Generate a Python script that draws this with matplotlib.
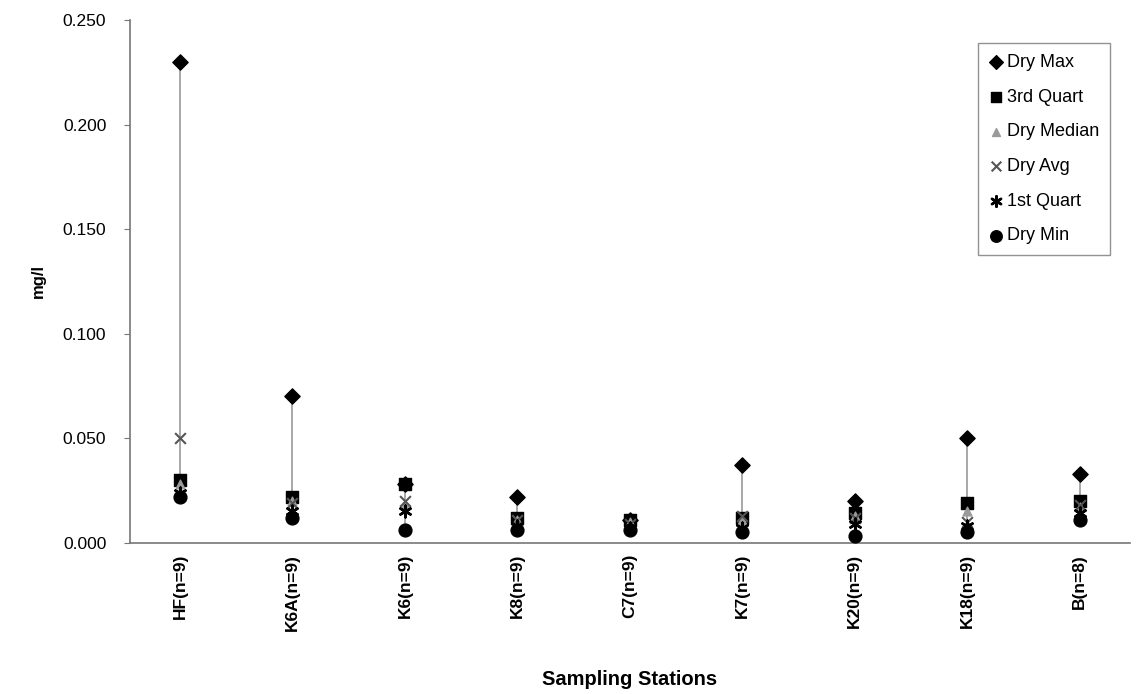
import matplotlib
matplotlib.use("Agg")
import matplotlib.pyplot as plt
import numpy as np

plt.rcParams['font.family'] = ['Liberation Sans', 'DejaVu Sans']

stations = ["HF(n=9)", "K6A(n=9)", "K6(n=9)", "K8(n=9)", "C7(n=9)",
            "K7(n=9)", "K20(n=9)", "K18(n=9)", "B(n=8)"]

dry_max = [0.230, 0.070, 0.028, 0.022, 0.011, 0.037, 0.020, 0.050, 0.033]
third_quart = [0.030, 0.022, 0.028, 0.012, 0.011, 0.012, 0.014, 0.019, 0.020]
dry_median = [0.028, 0.020, 0.018, 0.011, 0.010, 0.011, 0.013, 0.015, 0.017]
dry_avg = [0.050, 0.019, 0.020, 0.011, 0.009, 0.013, 0.012, 0.010, 0.018]
first_quart = [0.024, 0.015, 0.015, 0.008, 0.007, 0.007, 0.009, 0.008, 0.014]
dry_min = [0.022, 0.012, 0.006, 0.006, 0.006, 0.005, 0.003, 0.005, 0.011]

yticks = [0.000, 0.050, 0.100, 0.150, 0.200, 0.250]

fig = plt.figure(figsize=(11.4, 6.94), dpi=100)
ax = fig.add_axes([0.114, 0.218, 0.877, 0.753])

x = np.arange(len(stations))

# high-low lines from minimum to maximum
ax.vlines(x, dry_min, dry_max, color="#9a9a9a", lw=1.2, zorder=1)

ax.scatter(x, dry_max, marker="D", s=60, color="black", label="Dry Max", zorder=3)
ax.scatter(x, third_quart, marker="s", s=75, color="black", label="3rd Quart", zorder=4)
ax.scatter(x, dry_median, marker="^", s=40, color="#9a9a9a", label="Dry Median", zorder=5)
ax.scatter(x, dry_avg, marker="x", s=60, color="#555555", linewidths=1.5, label="Dry Avg", zorder=6)
ax.scatter(x, first_quart, marker=(6, 2, 0), s=70, color="black", linewidths=1.8, label="1st Quart", zorder=6)
ax.scatter(x, dry_min, marker="o", s=85, color="black", label="Dry Min", zorder=7)

ax.set_xlim(-0.444, 8.444)
ax.set_ylim(0, 0.25)
ax.set_yticks(yticks)
ax.set_yticklabels([f"{v:.3f}" for v in yticks], fontsize=12.5)
ax.set_xticks(x)
ax.set_xticklabels(stations, rotation=90, fontsize=12.5, fontweight="bold")
ax.tick_params(axis="x", length=0, pad=8)
ax.tick_params(axis="y", length=4, direction="out", color="#777777", pad=13)

for side in ("top", "right"):
    ax.spines[side].set_visible(False)
for side in ("left", "bottom"):
    ax.spines[side].set_color("#777777")
    ax.spines[side].set_linewidth(1.2)

ax.set_ylabel("mg/l", fontsize=12, fontweight="bold", labelpad=12)
ax.set_xlabel("Sampling Stations", fontsize=14.5, fontweight="bold", labelpad=28)

leg = ax.legend(loc="upper right", bbox_to_anchor=(0.98, 0.956), fontsize=13,
                frameon=True, fancybox=False, edgecolor="#777777",
                handletextpad=0.2, labelspacing=0.98, borderpad=0.6,
                handlelength=0.8, scatterpoints=1, markerscale=0.9,
                borderaxespad=0.0)
leg.get_frame().set_linewidth(1.0)

fig.savefig("out.png", dpi=100, facecolor="white")
